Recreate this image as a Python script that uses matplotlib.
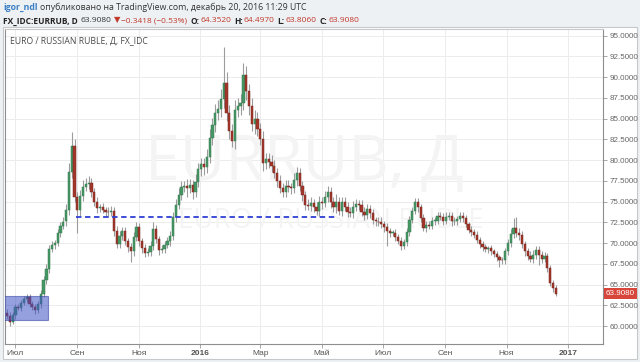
import matplotlib
matplotlib.use('Agg')
import matplotlib.pyplot as plt
import matplotlib.dates as mdates
from matplotlib.patches import Rectangle
import numpy as np
import pandas as pd

# EURRUB, one candle per ~2 trading days
close = [
    61.2, 60.5, 61.3, 62.3, 62.2, 62.8, 63.2, 63.5, 62.7, 62.3,
    61.9, 62.6, 63.9, 65.5, 66.9, 69.3, 69.8, 70.0, 71.2, 72.1,
    72.6, 74.0, 78.6, 81.7, 75.6, 74.0, 75.7, 76.8, 77.1, 77.2,
    76.1, 75.0, 74.2, 74.3, 74.0, 73.8, 73.7, 73.9, 71.5, 69.9,
    70.9, 71.4, 70.2, 69.5, 69.0, 70.7, 71.9, 70.2, 69.4, 68.8,
    68.9, 69.7, 71.7, 70.5, 69.2, 69.3, 69.8, 70.2, 70.9, 73.1,
    74.6, 75.8, 76.8, 76.9, 76.6, 77.0, 76.1, 77.4, 78.9, 79.5,
    79.2, 80.4, 82.7, 84.2, 85.7, 86.2, 87.4, 89.3, 85.7, 83.5,
    82.3, 86.1, 86.5, 86.9, 90.3, 88.3, 86.5, 84.4, 84.9, 83.7,
    82.6, 79.6, 80.1, 79.8, 79.3, 78.4, 77.5, 76.6, 76.2, 76.9,
    76.7, 76.6, 77.6, 78.4, 76.9, 75.8, 74.6, 74.5, 74.8, 74.3,
    73.9, 75.0, 74.8, 75.5, 76.1, 75.0, 74.3, 75.0, 73.9, 74.9,
    74.4, 73.7, 73.6, 74.4, 74.7, 74.6, 73.8, 73.4, 74.1, 73.6,
    72.8, 72.6, 72.5, 72.3, 71.9, 71.4, 71.2, 71.2, 70.7, 70.3,
    69.7, 70.1, 71.3, 72.8, 73.9, 75.0, 74.3, 73.0, 71.8, 72.2,
    72.1, 72.7, 72.7, 73.3, 73.2, 72.7, 73.2, 73.3, 72.6, 72.6,
    72.9, 73.3, 73.0, 72.3, 71.6, 71.3, 71.0, 70.4, 69.9, 69.5,
    69.3, 69.4, 69.0, 68.7, 68.3, 68.0, 67.9, 69.0, 70.0, 71.1,
    71.8, 71.2, 71.0, 69.9, 69.0, 68.5, 68.1, 68.6, 69.2, 68.6,
    68.1, 68.4, 67.0, 65.2, 64.6, 63.908,
]
wick_up = [
    0.4, 0.5, 0.4, 0.3, 0.4, 0.3, 0.4, 0.4, 0.3, 0.3,
    0.3, 0.4, 0.4, 0.5, 0.6, 0.5, 0.5, 0.4, 0.5, 0.5,
    0.5, 0.7, 1.0, 1.7, 0.8, 0.6, 0.7, 0.8, 0.7, 0.9,
    0.6, 0.5, 0.6, 0.4, 0.5, 0.4, 0.5, 0.6, 0.4, 0.5,
    0.6, 0.5, 0.5, 0.4, 0.5, 0.6, 0.6, 0.5, 0.4, 0.5,
    0.5, 0.6, 0.8, 0.5, 0.4, 0.5, 0.4, 0.5, 0.6, 0.7,
    0.7, 0.8, 0.7, 0.6, 0.8, 0.7, 0.6, 0.9, 0.8, 0.7,
    0.8, 0.9, 1.0, 0.9, 1.1, 1.0, 1.2, 4.4, 1.3, 1.0,
    0.9, 1.2, 1.0, 1.1, 1.4, 1.0, 0.9, 1.0, 1.1, 0.9,
    0.8, 0.9, 0.8, 0.7, 0.8, 0.7, 0.6, 0.7, 0.6, 0.7,
    0.7, 0.6, 0.9, 0.8, 0.7, 0.6, 0.5, 0.7, 0.8, 0.5,
    0.6, 0.7, 0.6, 0.8, 0.8, 0.6, 0.5, 0.9, 0.6, 0.7,
    0.6, 0.5, 0.6, 0.7, 0.6, 0.5, 0.6, 0.5, 0.6, 0.5,
    0.5, 0.4, 0.5, 0.6, 0.4, 0.5, 0.4, 0.4, 0.5, 0.4,
    0.4, 0.4, 0.5, 0.5, 0.5, 0.4, 0.4, 0.4, 0.5, 0.4,
    0.4, 0.5, 0.4, 0.4, 0.5, 0.4, 0.5, 0.4, 0.4, 0.5,
    0.4, 0.5, 0.4, 0.4, 0.3, 0.4, 0.4, 0.4, 0.3, 0.4,
    0.4, 0.3, 0.4, 0.3, 0.4, 0.3, 0.3, 0.4, 0.5, 0.6,
    1.2, 1.4, 0.6, 0.5, 0.4, 0.4, 0.5, 0.6, 0.5, 0.4,
    0.4, 0.5, 0.4, 0.4, 0.3, 0.3,
]
wick_dn = [
    0.4, 0.5, 0.3, 0.4, 0.3, 0.4, 0.3, 0.3, 0.4, 0.4,
    0.4, 0.3, 0.4, 0.4, 0.4, 0.5, 0.4, 0.5, 0.4, 0.5,
    0.4, 0.5, 0.6, 0.8, 0.6, 2.8, 0.7, 0.6, 0.5, 0.6,
    0.6, 0.5, 0.6, 0.5, 0.4, 0.5, 0.5, 0.4, 0.6, 0.5,
    0.5, 0.5, 0.4, 0.6, 1.3, 0.5, 0.4, 0.5, 0.6, 0.5,
    0.4, 0.5, 0.5, 0.5, 0.6, 0.4, 0.5, 0.4, 0.5, 0.5,
    0.6, 0.5, 0.6, 0.7, 1.0, 0.6, 0.8, 0.6, 0.7, 0.8,
    1.0, 0.8, 0.8, 0.9, 0.8, 0.9, 1.0, 1.1, 1.0, 0.9,
    0.7, 1.0, 0.9, 1.0, 0.8, 1.1, 1.0, 0.9, 1.2, 0.8,
    0.8, 0.9, 0.7, 0.8, 0.7, 0.6, 0.7, 0.6, 0.7, 0.6,
    0.6, 0.7, 0.6, 0.7, 0.6, 0.7, 0.6, 0.5, 0.6, 0.5,
    0.5, 0.6, 0.7, 0.5, 0.6, 0.8, 0.6, 0.7, 0.5, 0.6,
    0.5, 0.6, 0.5, 0.6, 0.5, 0.6, 0.5, 0.6, 0.5, 0.6,
    0.5, 0.6, 0.5, 0.5, 0.6, 1.8, 0.5, 0.4, 0.5, 0.4,
    0.5, 0.4, 0.4, 0.5, 0.4, 0.4, 0.5, 0.5, 0.4, 0.5,
    0.4, 0.4, 0.5, 0.4, 0.4, 0.5, 0.4, 0.4, 0.5, 0.4,
    0.4, 0.4, 0.5, 0.4, 0.4, 0.5, 0.4, 0.4, 0.5, 0.4,
    0.4, 0.5, 0.4, 0.4, 0.5, 0.9, 0.4, 0.4, 0.4, 0.5,
    0.5, 0.5, 0.6, 0.5, 0.5, 0.5, 0.4, 0.5, 0.5, 1.3,
    0.5, 0.4, 0.5, 0.4, 0.5, 0.3,
]
first_open = 61.6

level = 73.13
level_start, level_end = '2015-08-31', '2016-05-15'
box_start, box_end = '2015-06-20', '2015-08-03'
box_lo, box_hi = 60.7, 63.6

month_ticks = ['2015-07-01', '2015-09-01', '2015-11-01', '2016-01-01', '2016-03-01',
               '2016-05-01', '2016-07-01', '2016-09-01', '2016-11-01', '2017-01-01']
month_labels = ['Июл', 'Сен', 'Ноя', '2016', 'Мар', 'Май', 'Июл', 'Сен', 'Ноя', '2017']
price_ticks = np.arange(60, 95.1, 2.5)

W, H = 640, 362
def fx(px):
    return px / W
def fy(py):
    return 1 - py / H

fig = plt.figure(figsize=(6.4, 3.62), dpi=100, facecolor='#eef1f4')
# white chart panel, behind the axes
fig.patches.append(Rectangle((fx(3), fy(359)), fx(634), (359 - 27) / H, transform=fig.transFigure,
                             facecolor='white', edgecolor='#c6c9cc', lw=0.8, zorder=-5))
ax = fig.add_axes([fx(5), fy(344), fx(598), (344 - 29) / H])
ax.set_facecolor('white')

dates = pd.date_range('2015-06-23', '2016-12-20', periods=len(close))
x = mdates.date2num(dates)
c = np.array(close)
o = np.array([first_open] + close[:-1])
top = np.maximum(o, c)
bot = np.minimum(o, c)
hi = top + np.array(wick_up)
lo = bot - np.array(wick_dn)
up = c >= o

# watermark inside the axes, under the candles
ax.text(0.50, 0.575, 'EURRUB, Д', transform=ax.transAxes, fontsize=45, color='#f4f4f4',
        ha='center', va='center', family='Open Sans', zorder=1)
ax.text(0.545, 0.39, 'EURO / RUSSIAN RUBLE', transform=ax.transAxes, fontsize=20, color='#f4f4f4',
        ha='center', va='center', family='Open Sans', zorder=1)

ax.vlines(x, lo, hi, color='#9c9c9c', lw=0.8, zorder=2)
ax.bar(x, np.maximum(top - bot, 0.08), bottom=bot, width=2.2,
       color=np.where(up, '#479764', '#a3372b'),
       edgecolor=np.where(up, '#367a50', '#7a281f'), lw=0.35, zorder=3)

ax.hlines(level, mdates.datestr2num(level_start), mdates.datestr2num(level_end),
          color='#2e3fd4', lw=1.3, linestyles=(0, (3, 2)), zorder=4)
b0 = mdates.datestr2num(box_start)
b1 = mdates.datestr2num(box_end)
ax.add_patch(Rectangle((b0, box_lo), b1 - b0, box_hi - box_lo, facecolor='#3f52c6',
                       alpha=0.55, edgecolor='#2f3da0', lw=0.8, zorder=5))

ax.set_xlim(mdates.datestr2num('2015-06-21'), mdates.datestr2num('2017-02-05'))
ax.set_ylim(57.83, 95.81)
ax.set_xticks(mdates.datestr2num(month_ticks))
ax.set_xticklabels(month_labels, fontsize=6, color='#555555', family='Liberation Sans')
for lab in ax.get_xticklabels():
    if lab.get_text() in ('2016', '2017'):
        lab.set_fontweight('bold')
ax.yaxis.tick_right()
ax.set_yticks(price_ticks)
ax.set_yticklabels(['%.4f' % v for v in price_ticks], fontsize=5.8, color='#666666',
                   family='Liberation Sans')
ax.tick_params(axis='both', length=3, width=0.6, color='#999999', pad=2)
ax.tick_params(axis='x', pad=1.5)
ax.grid(True, color='#ececec', lw=0.7)
ax.set_axisbelow(True)
for s in ax.spines.values():
    s.set_color('#8e8e8e')
    s.set_linewidth(0.8)
ax.spines['top'].set_color('#c8c8c8')

# last price label
fig.patches.append(Rectangle((fx(604), fy(299)), fx(33), 11 / H, transform=fig.transFigure,
                             facecolor='#d8453a', edgecolor='none', zorder=5))
fig.text(fx(620), fy(293.5), '63.9080', fontsize=5.8, color='white', ha='center', va='center',
         family='Liberation Sans', zorder=6)

fig.text(fx(10), fy(41), 'EURO / RUSSIAN RUBLE, Д, FX_IDC', fontsize=6.2, color='#4a4a4a',
         va='center', family='Open Sans')

# header, pieces laid out one after another
hf = ['Open Sans', 'DejaVu Sans']
renderer = fig.canvas.get_renderer()

def put_line(parts, py, size, start=3):
    cur = start
    for txt, col, fw, gap in parts:
        t = fig.text(fx(cur), fy(py), txt, fontsize=size, color=col, va='center',
                     family=hf, fontweight=fw)
        cur = t.get_window_extent(renderer).x1 + gap

red = '#c0392b'
dark = '#222222'
put_line([
    ('igor_ndl', '#3b7fc4', 'bold', 2),
    ('опубликовано на TradingView.com, декабрь 20, 2016 11:29 UTC', '#333333', 'normal', 0),
], 7, 6.3)
put_line([
    ('FX_IDC:EURRUB, D', dark, 'bold', 3),
    ('63.9080', '#333333', 'normal', 2),
    ('▼', red, 'normal', 1),
    ('−0.3418 (−0.53%)', red, 'normal', 3),
    ('O:', dark, 'bold', 1),
    ('64.3520', red, 'normal', 3),
    ('H:', dark, 'bold', 1),
    ('64.4970', red, 'normal', 3),
    ('L:', dark, 'bold', 1),
    ('63.8060', red, 'normal', 3),
    ('C:', dark, 'bold', 1),
    ('63.9080', red, 'normal', 0),
], 21, 6.0)

fig.savefig('out.png', dpi=100, facecolor=fig.get_facecolor())
